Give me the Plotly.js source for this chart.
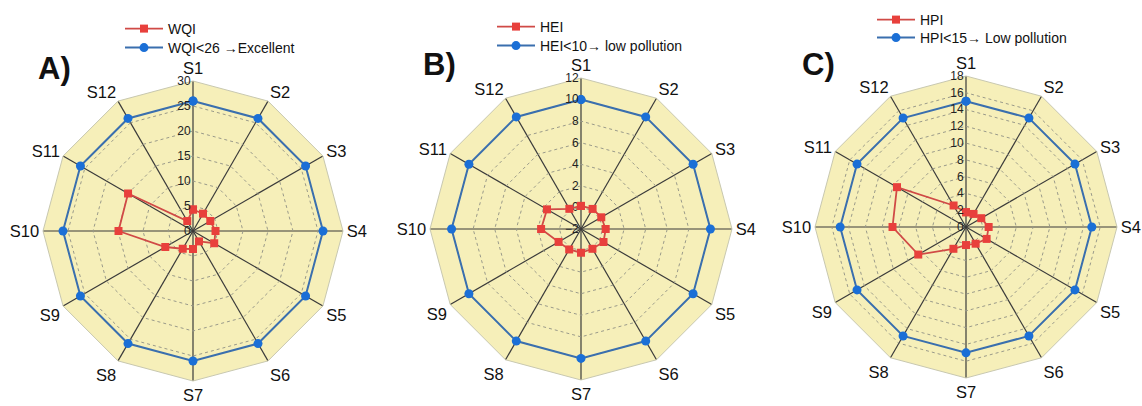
<!DOCTYPE html>
<html>
<head>
<meta charset="utf-8">
<script src="https://cdn.plot.ly/plotly-3.0.1.min.js"></script>
<style>html,body{margin:0;padding:0;background:#fff}#chart{width:1142px;height:406px}</style>
</head>
<body>
<div id="chart"></div>
<script>
// ---- data ----
const sites = ['S1','S2','S3','S4','S5','S6','S7','S8','S9','S10','S11','S12'];
const wqi = [4.3, 4.0, 4.0, 4.5, 4.9, 2.4, 3.6, 4.1, 6.4, 14.9, 15.0, 2.3];
const wqiLimit = [26,26,26,26,26,26,26,26,26,26,26,26];
const hei = [0.14, 0.15, 0.17, 0.29, 0.41, 0.12, 0.2, 0.19, 0.4, 1.7, 1.64, 0.16];
const heiLimit = [10,10,10,10,10,10,10,10,10,10,10,10];
const hpi = [1.76, 1.8, 2.1, 2.7, 2.84, 2.3, 2.15, 3.0, 6.57, 8.76, 9.5, 2.96];
const hpiLimit = [15,15,15,15,15,15,15,15,15,15,15,15];
const names = {
  A: ['WQI', 'WQI<26 \u2192Excellent'],
  B: ['HEI', 'HEI<10\u2192 low pollution'],
  C: ['HPI', 'HPI<15\u2192 Low pollution']
};
const panelLabels = ['A)', 'B)', 'C)'];

// ---- styling ----
const redLine = '#d04a46', redMarker = '#e8403c';
const blueLine = '#3a6fae', blueMarker = '#1b6fd6';
const close = a => a.concat([a[0]]);
const theta = close(sites);

function pair(vals, lim, nm, subRed, subBlue, legA, legB) {
  return [
    {type:'scatterpolar', r: close(vals), theta: theta, name: nm[0], subplot: subRed, legend: legA,
     mode:'lines+markers', line:{color:redLine, width:1.8},
     marker:{symbol:'square', size:8, color:redMarker}},
    {type:'scatterpolar', r: close(lim), theta: theta, name: nm[1], subplot: subBlue, legend: legB,
     mode:'lines+markers', line:{color:blueLine, width:2},
     marker:{symbol:'circle', size:9, color:blueMarker}}
  ];
}

// panel B red series is drawn on an overlaid circular polar (same domain, same scale)
const data = [].concat(
  pair(wqi, wqiLimit, names.A, 'polar', 'polar', 'legend', 'legend2'),
  pair(hei, heiLimit, names.B, 'polar4', 'polar2', 'legend3', 'legend4'),
  pair(hpi, hpiLimit, names.C, 'polar3', 'polar3', 'legend5', 'legend6')
);

const FONT = 'Liberation Sans, Arial, sans-serif';
function polar(xd, yd, range, dtick) {
  return {
    domain: {x: xd, y: yd},
    bgcolor: '#f6efb9',
    gridshape: 'linear',
    angularaxis: {
      rotation: 90, direction: 'clockwise', categoryorder: 'array', categoryarray: sites,
      showline: true, linecolor: '#c8c8b0', linewidth: 1,
      gridcolor: '#3a3a3a', gridwidth: 1.2, ticks: '', ticklen: 0,
      tickfont: {size: 16.5, color: '#111', family: FONT}
    },
    radialaxis: {
      range: range, dtick: dtick, angle: 90, tickangle: 90, side: 'counterclockwise',
      showline: false, ticks: '', gridcolor: '#9a9a8a', griddash: 'dot', gridwidth: 1,
      tickfont: {size: 12, color: '#222', family: FONT}
    }
  };
}
function overlay(xd, yd, range) {
  return {
    domain: {x: xd, y: yd},
    bgcolor: 'rgba(0,0,0,0)',
    angularaxis: {rotation: 90, direction: 'clockwise', categoryorder: 'array', categoryarray: sites,
      showline: false, showgrid: false, showticklabels: false, ticks: ''},
    radialaxis: {range: range, showline: false, showgrid: false, showticklabels: false, ticks: ''}
  };
}

function legend(x, yTop) {
  return {x: x/1142, y: 1 - yTop/406, xanchor: 'left', yanchor: 'top', bgcolor: 'rgba(0,0,0,0)',
          font: {size: 14, color: '#111', family: FONT}, itemwidth: 38, borderwidth: 0};
}

const domA = [[43/1142, 343/1142], [1-381/406, 1-81/406]];
const domB = [[430/1142, 732/1142], [1-380/406, 1-78/406]];
const domC = [[815/1142, 1117/1142], [1-378/406, 1-76/406]];

const layout = {
  width: 1142, height: 406,
  margin: {l: 0, r: 0, t: 0, b: 0},
  paper_bgcolor: '#fff',
  showlegend: true,
  polar: polar(domA[0], domA[1], [0, 30], 5),
  polar2: polar(domB[0], domB[1], [-2, 12], 2),
  polar3: polar(domC[0], domC[1], [0, 18], 2),
  polar4: overlay(domB[0], domB[1], [-2, 12]),
  legend: legend(120, 13),
  legend2: legend(120, 32),
  legend3: legend(492, 11),
  legend4: legend(492, 30),
  legend5: legend(872, 4),
  legend6: legend(872, 22),
  annotations: [
    {text: '<b>' + panelLabels[0] + '</b>', x: 36/1142, y: 1-69/406},
    {text: '<b>' + panelLabels[1] + '</b>', x: 421/1142, y: 1-65/406},
    {text: '<b>' + panelLabels[2] + '</b>', x: 800/1142, y: 1-65/406}
  ].map(a => Object.assign(a, {xref:'paper', yref:'paper', xanchor:'left', yanchor:'middle',
      showarrow:false, font:{size:31, color:'#111', family:FONT}}))
};

Plotly.newPlot('chart', data, layout, {displayModeBar: false, staticPlot: true});
</script>
</body>
</html>
